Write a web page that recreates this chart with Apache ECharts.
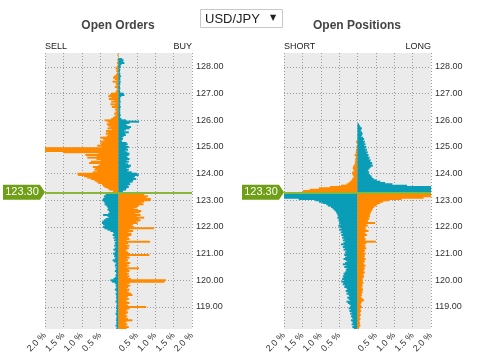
<!DOCTYPE html>
<html><head><meta charset="utf-8">
<script src="https://cdn.jsdelivr.net/npm/echarts/dist/echarts.min.js"></script>
<style>html,body{margin:0;padding:0;background:#fff}#c{width:478px;height:358px}</style>
</head><body><div id="c"></div>
<script>
// price ladder: 118.20 .. 128.50 step 0.05 (index 0 = bottom)
const priceStart = 118.20, priceStep = 0.05, levelCount = 207;
const priceLevels = [];
for (let i = 0; i < levelCount; i++) priceLevels.push(((priceStart * 100 + i * priceStep * 100) / 100).toFixed(2));
const currentPrice = '123.30';
const yTickLabels = ['119.00','120.00','121.00','122.00','123.00','124.00','125.00','126.00','127.00','128.00'];
const xTickValues = [-2, -1.5, -1, -0.5, 0, 0.5, 1, 1.5, 2];

// Open Orders, left side (% , drawn to the left)
const ordersLeft = [
0.06,0.04,0.08,0.05,0.06,0.04,0.07,0.05,0.06,0.04,0.06,0.08,0.05,0.06,0.04,0.07,
0.05,0.06,0.04,0.05,0.08,0.06,0.04,0.07,0.05,0.06,0.08,0.04,0.06,0.10,0.07,0.05,0.08,0.06,0.10,0.18,
0.22,0.14,0.10,0.06,0.08,0.05,0.07,0.10,0.06,0.08,0.05,0.10,0.08,0.06,0.12,0.16,0.10,0.08,0.12,0.10,
0.15,0.10,0.08,0.14,0.10,0.06,0.12,0.08,0.10,0.06,0.12,0.08,0.14,0.10,0.16,0.12,0.15,0.22,0.30,0.38,
0.42,0.38,0.42,0.45,0.44,0.40,0.35,0.26,0.30,0.42,0.28,0.24,0.26,0.30,0.28,0.30,0.33,0.38,0.36,0.40,
0.44,0.42,0.38,0.40,0.35,0.30,0,0.15,0.25,0.30,0.38,0.42,0.45,0.55,0.60,0.66,0.75,0.85,0.94,1.10,
1.12,0.70,0.58,0.66,0.62,0.70,0.55,0.50,0.80,0.75,0.48,0.60,0.85,0.60,0.90,0.55,1.50,2.00,2.00,2.00,
0.45,0.58,0.48,0.45,0.50,0.38,0.42,0.50,0.32,0.28,0.35,0.30,0.34,0.18,0.30,0.22,0.28,0.32,0.25,0.30,
0.38,0.20,0.15,0.10,0.06,0.12,0.08,0.05,0.10,0.06,0.18,0.10,0.22,0.08,0.20,0.12,0.26,0.18,0.28,0.24,
0.20,0.08,0.06,0.03,0.05,0.10,0.04,0.08,0.06,0.16,0.05,0.10,0.15,0.12,0.07,0.05,0.03,0.06,0.04,0.08,
0.05,0.03,0.02,0.04,0.02,0.03,0.02,0.01,0,0.03,0
];
// Open Orders, right side
const ordersRight = [
0.22,0.28,0.20,0.24,0.18,0.22,0.38,0.26,0.20,0.24,0.18,0.22,0.26,0.20,0.24,0.30,
0.75,0.26,0.22,0.30,0.24,0.20,0.28,0.22,0.26,0.38,0.34,0.28,0.24,0.30,0.22,0.26,0.32,0.24,0.30,1.25,
1.29,0.34,0.26,0.30,0.24,0.28,0.22,0.30,0.26,0.56,0.22,0.28,0.24,0.32,0.20,0.26,0.22,0.30,0.24,0.84,
0.30,0.26,0.20,0.22,0.28,0.24,0.30,0.20,0.26,0.86,0.22,0.30,0.24,0.28,0.35,0.35,0.26,0.40,0.30,0.97,
0.42,0.36,0.40,0.52,0.48,0.60,0.55,0.70,0.50,0.60,0.45,0.58,0.62,0.52,0.42,0.50,0.55,0.68,0.62,0.70,
0.86,0.88,0.75,0.80,0.70,0.55,0,0.12,0.20,0.22,0.28,0.25,0.32,0.30,0.38,0.40,0.48,0.42,0.45,0.55,
0.50,0.36,0.24,0.28,0.22,0.30,0.34,0.26,0.20,0.28,0.22,0.30,0.25,0.22,0.28,0.30,0.24,0.18,0.26,0.22,
0.28,0.20,0.25,0.22,0.10,0.08,0.12,0.10,0.14,0.20,0.18,0.28,0.15,0.20,0.30,0.34,0.24,0.20,0.30,0.56,
0.20,0.08,0.05,0.04,0.06,0.04,0.05,0.03,0.05,0.04,0.06,0.04,0.05,0.03,0.06,0.04,0.05,0.04,0.08,0.16,
0.14,0.05,0.04,0.03,0.05,0.04,0.03,0.05,0.04,0.06,0.03,0.05,0.04,0.07,0.04,0.05,0.03,0.04,0.05,0.03,
0.06,0.05,0.08,0.16,0.12,0.14,0.10,0,0,0,0
];
// Open Positions, left side
const positionsLeft = [
0.10,0.14,0.10,0.16,0.12,0.14,0.18,0.12,0.15,0.18,0.14,0.20,0.16,0.22,0.18,0.24,
0.20,0.18,0.22,0.26,0.30,0.20,0.24,0.28,0.22,0.24,0.30,0.26,0.32,0.28,0.30,0.36,0.34,0.40,0.38,0.44,
0.36,0.42,0.38,0.40,0.36,0.38,0.34,0.30,0.32,0.28,0.36,0.30,0.40,0.34,0.28,0.32,0.38,0.34,0.30,0.36,
0.32,0.34,0.30,0.38,0.34,0.40,0.36,0.45,0.38,0.34,0.40,0.36,0.42,0.38,0.44,0.40,0.46,0.42,0.50,0.44,
0.48,0.52,0.46,0.50,0.48,0.52,0.50,0.55,0.52,0.54,0.56,0.58,0.60,0.64,0.68,0.72,0.80,0.85,0.95,1.05,
1.15,1.60,2.00,2.00,2.00,2.00,0,1.48,1.30,1.05,0.75,0.45,0.30,0.24,0.20,0.16,0.14,0.12,0.10,0.12,
0.15,0.14,0.09,0.11,0.13,0.12,0.10,0.08,0.06,0.07,0.05,0.06,0.04,0.05,0.08,0.04,0.05,0.03,0.04,0.02,
0.03,0.02,0,0.02,0.04,0,0,0.01,0,0.01,0,0,0,0,0,0,0,0,0,0,
0,0,0,0,0,0,0,0,0,0,0,0,0,0,0,0,0,0,0,0,
0,0,0,0,0,0,0,0,0,0,0,0,0,0,0,0,0,0,0,0,
0,0,0,0,0,0,0,0,0,0,0
];
// Open Positions, right side
const positionsRight = [
0.04,0.05,0.08,0.06,0.07,0.05,0.06,0.08,0.05,0.07,0.09,0.06,0.08,0.10,0.07,0.09,
0.12,0.10,0.08,0.10,0.12,0.18,0.14,0.11,0.09,0.12,0.10,0.14,0.12,0.15,0.13,0.11,0.14,0.12,0.16,0.13,
0.15,0.12,0.16,0.18,0.14,0.17,0.20,0.15,0.18,0.20,0.16,0.22,0.18,0.15,0.20,0.18,0.22,0.16,0.20,0.18,
0.22,0.16,0.20,0.18,0.24,0.20,0.22,0.18,0.24,0.50,0.20,0.22,0.18,0.20,0.26,0.22,0.20,0.30,0.24,0.20,
0.22,0.28,0.24,0.48,0.28,0.28,0.32,0.30,0.34,0.33,0.35,0.36,0.38,0.40,0.42,0.45,0.50,0.55,0.62,0.70,
0.85,1.20,1.80,2.00,2.00,2.00,0,2.00,2.00,2.00,2.00,1.35,0.95,0.75,0.62,0.52,0.44,0.40,0.38,0.34,
0.30,0.32,0.28,0.30,0.33,0.36,0.42,0.38,0.40,0.34,0.36,0.30,0.33,0.28,0.30,0.25,0.28,0.22,0.26,0.20,
0.24,0.18,0.22,0.17,0.20,0.15,0.18,0.15,0.10,0.12,0.14,0.12,0.08,0.10,0.12,0.08,0.06,0.04,0,0,
0,0,0,0,0,0,0,0,0,0,0,0,0,0,0,0,0,0,0,0,
0,0,0,0,0,0,0,0,0,0,0,0,0,0,0,0,0,0,0,0,
0,0,0,0,0,0,0,0,0,0,0
];

const orange = '#ff8a00', blue = '#0a9db6';
const lineGreen = '#8ab73a', tagGreen = '#6e9f16';
const font = '"Liberation Sans", Arial, sans-serif';

function sideColor(side) {
  return p => {
    const above = parseFloat(priceLevels[p.dataIndex]) > parseFloat(currentPrice);
    return side === 'left' ? (above ? orange : blue) : (above ? blue : orange);
  };
}
const isTick = (idx, val) => yTickLabels.indexOf(val) >= 0;

function xAxisFor(g) {
  return {
    gridIndex: g, type: 'value', min: -2, max: 2, interval: 0.5,
    axisLine: {show: false}, axisTick: {show: false},
    splitLine: {show: true, lineStyle: {color: '#9c9c9c', type: [1, 2], width: 1}},
    axisLabel: {rotate: 45, fontSize: 9, color: '#333', fontFamily: font, margin: 5,
      formatter: v => (v === 0 ? '' : Math.abs(v).toFixed(1) + ' %')}
  };
}
function yAxisFor(g) {
  return {
    gridIndex: g, type: 'category', data: priceLevels, position: 'right', boundaryGap: true,
    axisLine: {show: false}, axisTick: {show: false},
    axisLabel: {interval: isTick, fontSize: 9, color: '#333', fontFamily: font, margin: 4},
    splitLine: {show: true, interval: isTick, alignWithLabel: true,
      lineStyle: {color: '#9c9c9c', type: [1, 2], width: 1}}
  };
}
function markers() {
  return {
    markLine: {silent: true, symbol: 'none', label: {show: false}, z: 10,
      lineStyle: {color: lineGreen, width: 2, type: 'solid'},
      data: [{yAxis: currentPrice}]},
    markPoint: {silent: true, z: 11,
      symbol: 'path://M0,0 L37,0 L42,7.5 L37,15 L0,15 Z', symbolSize: [42, 15], symbolKeepAspect: false,
      itemStyle: {color: tagGreen},
      label: {show: true, position: 'inside', formatter: currentPrice, color: '#fff', fontSize: 11, fontFamily: font, offset: [-2, 0]},
      data: [{coord: [-2, currentPrice], symbolOffset: [-21, 0]}]}
  };
}
function barSeries(g, vals, side, withMarkers) {
  const s = {
    type: 'bar', xAxisIndex: g, yAxisIndex: g, silent: true,
    data: side === 'left' ? vals.map(v => -v) : vals,
    barWidth: 2, barGap: '-100%',
    itemStyle: {color: sideColor(side)}
  };
  return withMarkers ? Object.assign(s, markers()) : s;
}

const chart = echarts.init(document.getElementById('c'), null, {renderer: 'canvas'});
chart.setOption({
  animation: false,
  backgroundColor: '#fff',
  grid: [
    {left: 45, right: 286, top: 53, bottom: 29, show: true, backgroundColor: '#ebebeb', borderWidth: 0},
    {left: 284, right: 47, top: 53, bottom: 29, show: true, backgroundColor: '#ebebeb', borderWidth: 0}
  ],
  xAxis: [xAxisFor(0), xAxisFor(1)],
  yAxis: [yAxisFor(0), yAxisFor(1)],
  series: [
    barSeries(0, ordersLeft, 'left', false),
    barSeries(0, ordersRight, 'right', true),
    barSeries(1, positionsLeft, 'left', false),
    barSeries(1, positionsRight, 'right', true)
  ],
  graphic: [
    {type: 'text', x: 118, y: 26, style: {text: 'Open Orders', font: 'bold 12px ' + font, fill: '#444', align: 'center', verticalAlign: 'middle'}},
    {type: 'text', x: 357, y: 26, style: {text: 'Open Positions', font: 'bold 12px ' + font, fill: '#444', align: 'center', verticalAlign: 'middle'}},
    {type: 'text', x: 45, y: 47, style: {text: 'SELL', font: '9px ' + font, fill: '#222', align: 'left', verticalAlign: 'middle'}},
    {type: 'text', x: 192, y: 47, style: {text: 'BUY', font: '9px ' + font, fill: '#222', align: 'right', verticalAlign: 'middle'}},
    {type: 'text', x: 284, y: 47, style: {text: 'SHORT', font: '9px ' + font, fill: '#222', align: 'left', verticalAlign: 'middle'}},
    {type: 'text', x: 431, y: 47, style: {text: 'LONG', font: '9px ' + font, fill: '#222', align: 'right', verticalAlign: 'middle'}},
    {type: 'rect', shape: {x: 200.5, y: 9.5, width: 82, height: 18}, style: {fill: '#fff', stroke: '#c8c8c8', lineWidth: 1}},
    {type: 'text', x: 205, y: 19, style: {text: 'USD/JPY', font: '13px ' + font, fill: '#222', align: 'left', verticalAlign: 'middle'}},
    {type: 'text', x: 273, y: 18, style: {text: '▼', font: '8px "DejaVu Sans", sans-serif', fill: '#222', align: 'center', verticalAlign: 'middle'}}
  ]
});
</script></body></html>
